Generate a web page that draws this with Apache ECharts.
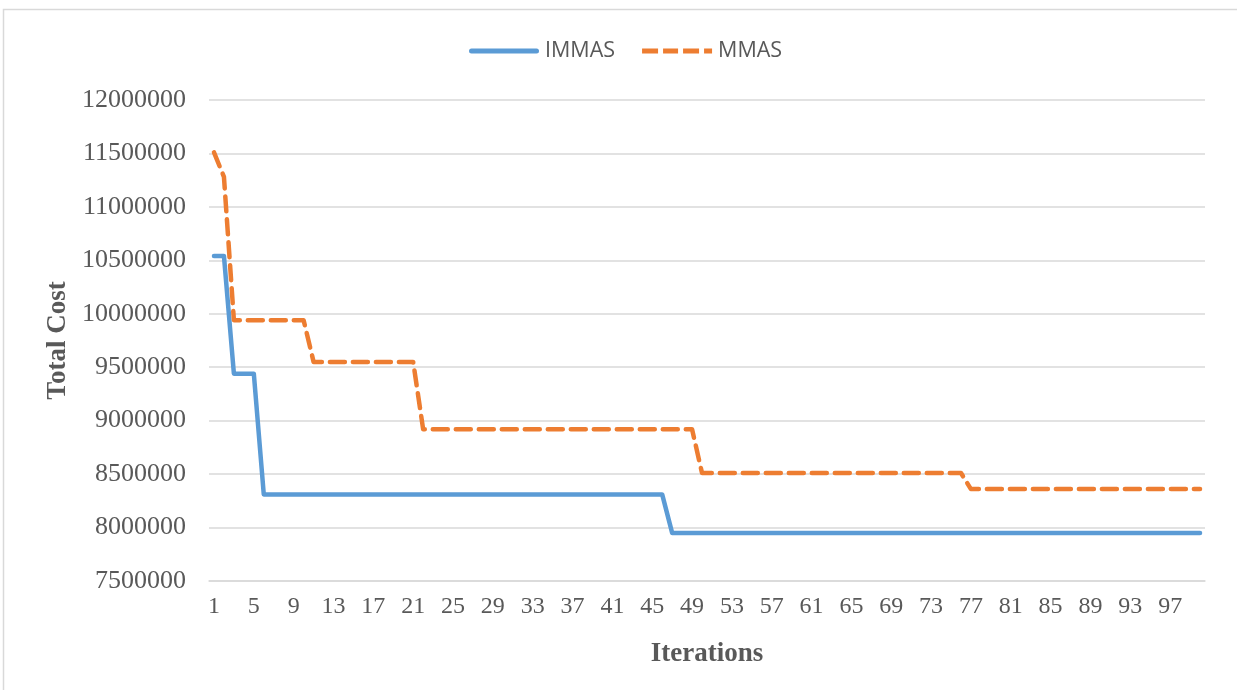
<!DOCTYPE html>
<html>
<head>
<meta charset="utf-8">
<script src="https://cdn.jsdelivr.net/npm/echarts@6/dist/echarts.min.js"></script>
<style>
  html, body { margin: 0; padding: 0; background: #fff; }
  #main { width: 1237px; height: 690px; }
</style>
</head>
<body>
<div id="main"></div>
<script>
// iterations 1..100
var iterations = [
  1, 2, 3, 4, 5, 6, 7, 8, 9, 10,
  11, 12, 13, 14, 15, 16, 17, 18, 19, 20,
  21, 22, 23, 24, 25, 26, 27, 28, 29, 30,
  31, 32, 33, 34, 35, 36, 37, 38, 39, 40,
  41, 42, 43, 44, 45, 46, 47, 48, 49, 50,
  51, 52, 53, 54, 55, 56, 57, 58, 59, 60,
  61, 62, 63, 64, 65, 66, 67, 68, 69, 70,
  71, 72, 73, 74, 75, 76, 77, 78, 79, 80,
  81, 82, 83, 84, 85, 86, 87, 88, 89, 90,
  91, 92, 93, 94, 95, 96, 97, 98, 99, 100
];

var immas = [
  10540000, 10540000, 9440000, 9440000, 9440000, 8310000, 8310000, 8310000, 8310000, 8310000,
  8310000, 8310000, 8310000, 8310000, 8310000, 8310000, 8310000, 8310000, 8310000, 8310000,
  8310000, 8310000, 8310000, 8310000, 8310000, 8310000, 8310000, 8310000, 8310000, 8310000,
  8310000, 8310000, 8310000, 8310000, 8310000, 8310000, 8310000, 8310000, 8310000, 8310000,
  8310000, 8310000, 8310000, 8310000, 8310000, 8310000, 7950000, 7950000, 7950000, 7950000,
  7950000, 7950000, 7950000, 7950000, 7950000, 7950000, 7950000, 7950000, 7950000, 7950000,
  7950000, 7950000, 7950000, 7950000, 7950000, 7950000, 7950000, 7950000, 7950000, 7950000,
  7950000, 7950000, 7950000, 7950000, 7950000, 7950000, 7950000, 7950000, 7950000, 7950000,
  7950000, 7950000, 7950000, 7950000, 7950000, 7950000, 7950000, 7950000, 7950000, 7950000,
  7950000, 7950000, 7950000, 7950000, 7950000, 7950000, 7950000, 7950000, 7950000, 7950000
];

var mmas = [
  11510000, 11280000, 9940000, 9940000, 9940000, 9940000, 9940000, 9940000, 9940000, 9940000,
  9550000, 9550000, 9550000, 9550000, 9550000, 9550000, 9550000, 9550000, 9550000, 9550000,
  9550000, 8920000, 8920000, 8920000, 8920000, 8920000, 8920000, 8920000, 8920000, 8920000,
  8920000, 8920000, 8920000, 8920000, 8920000, 8920000, 8920000, 8920000, 8920000, 8920000,
  8920000, 8920000, 8920000, 8920000, 8920000, 8920000, 8920000, 8920000, 8920000, 8510000,
  8510000, 8510000, 8510000, 8510000, 8510000, 8510000, 8510000, 8510000, 8510000, 8510000,
  8510000, 8510000, 8510000, 8510000, 8510000, 8510000, 8510000, 8510000, 8510000, 8510000,
  8510000, 8510000, 8510000, 8510000, 8510000, 8510000, 8360000, 8360000, 8360000, 8360000,
  8360000, 8360000, 8360000, 8360000, 8360000, 8360000, 8360000, 8360000, 8360000, 8360000,
  8360000, 8360000, 8360000, 8360000, 8360000, 8360000, 8360000, 8360000, 8360000, 8360000
];

var myChart = echarts.init(document.getElementById('main'));

var serif = '"Liberation Serif", "Times New Roman", serif';
// legend icons: solid bar and four dashes
var solidIcon = 'path://M2.5,0h65a2.5,2.5,0,0,1,0,5h-65a2.5,2.5,0,0,1,0,-5z';
var dashIcon = 'path://M0,0h16v5h-16z M21,0h15v5h-15z M41,0h16v5h-16z M62,0h8v5h-8z';

var option = {
  backgroundColor: '#fff',
  animation: false,
  graphic: [{
    type: 'rect',
    shape: { x: 3.5, y: 9.5, width: 1240, height: 690 },
    style: { fill: 'none', stroke: '#d9d9d9', lineWidth: 1.5 },
    silent: true
  }],
  legend: {
    top: 35,
    left: 464,
    itemWidth: 72,
    itemHeight: 5,
    itemGap: 27,
    textStyle: { fontFamily: '"Open Sans", sans-serif', fontSize: 21.5, color: '#595959' },
    data: [
      { name: 'IMMAS', icon: solidIcon },
      { name: 'MMAS', icon: dashIcon }
    ]
  },
  grid: { left: 209, right: 32, top: 100, bottom: 109 },
  xAxis: {
    type: 'category',
    data: iterations,
    name: 'Iterations',
    nameLocation: 'middle',
    nameGap: 60,
    nameTextStyle: { fontFamily: serif, fontSize: 27, fontWeight: 'bold', color: '#595959' },
    axisLine: { lineStyle: { color: '#d9d9d9', width: 1.5 } },
    axisTick: { show: false },
    axisLabel: { interval: 3, margin: 14, fontFamily: serif, fontSize: 24, color: '#595959' }
  },
  yAxis: {
    type: 'value',
    min: 7500000,
    max: 12000000,
    interval: 500000,
    name: 'Total Cost',
    nameLocation: 'middle',
    nameGap: 131,
    nameTextStyle: { fontFamily: serif, fontSize: 27, fontWeight: 'bold', color: '#595959' },
    axisLine: { show: false },
    axisTick: { show: false },
    axisLabel: {
      margin: 23, fontFamily: serif, fontSize: 26, color: '#595959',
      formatter: function (v) { return String(v); }
    },
    splitLine: { lineStyle: { color: '#d9d9d9', width: 1.5 } }
  },
  series: [{
    name: 'IMMAS',
    type: 'line',
    data: immas,
    symbol: 'none',
    itemStyle: { color: '#5b9bd5' },
    lineStyle: { color: '#5b9bd5', width: 4.5, cap: 'round', join: 'round' }
  }, {
    name: 'MMAS',
    type: 'line',
    data: mmas,
    symbol: 'none',
    itemStyle: { color: '#ed7d31' },
    lineStyle: { color: '#ed7d31', width: 4.5, type: [15, 8], cap: 'round', join: 'round' }
  }]
};

myChart.setOption(option);
</script>
</body>
</html>
